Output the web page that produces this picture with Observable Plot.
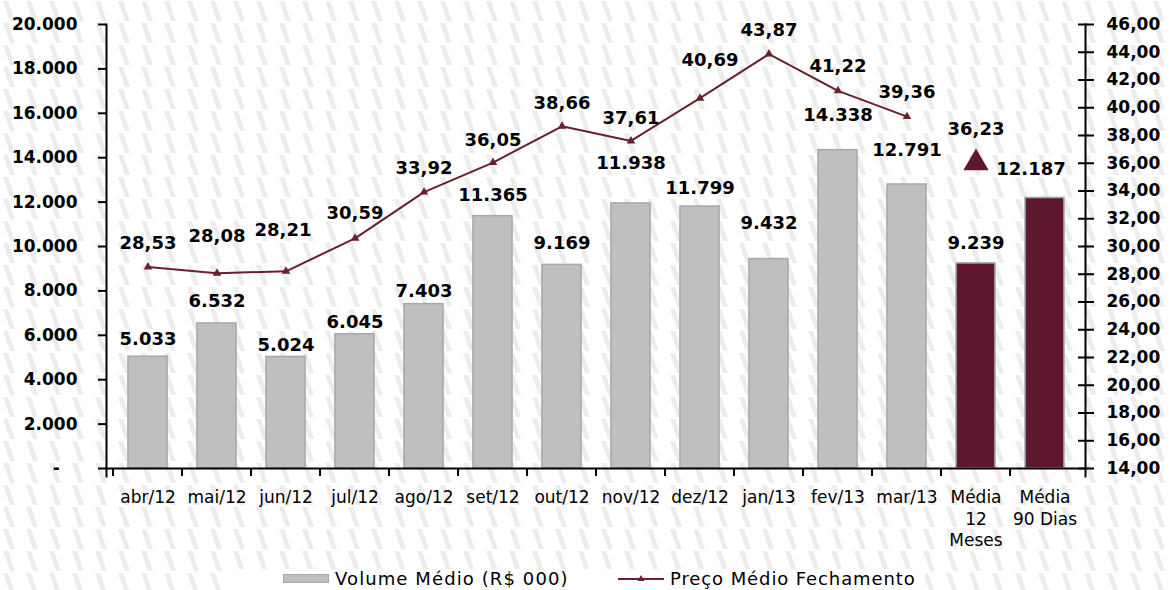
<!DOCTYPE html>
<html>
<head>
<meta charset="utf-8">
<script src="https://cdn.jsdelivr.net/npm/d3@7"></script>
<script src="https://cdn.jsdelivr.net/npm/@observablehq/plot@0.6"></script>
<style>
html, body { margin: 0; padding: 0; }
body {
  width: 1170px; height: 590px; overflow: hidden; position: relative;
  background: #fff url("data:image/svg+xml,%3Csvg xmlns='http://www.w3.org/2000/svg' width='23' height='22'%3E%3Cpolygon points='3,1 8,1 15,21 10,21' fill='%23ececec'/%3E%3C/svg%3E") repeat;
  font-family: "DejaVu Sans", Verdana, sans-serif;
}
#chart { position: absolute; left: 0; top: 0; }
#legend { position: absolute; left: 233px; top: 569px; width: 692px; height: 21px; background: #fff; font-size: 18px; color: #000; }
#legend .sw { position: absolute; left: 50px; top: 5px; width: 46px; height: 9px; background: #bfbfbf; border: 1px solid #a2aab2; box-sizing: border-box; }
#legend .t1 { position: absolute; left: 102px; top: -1px; white-space: nowrap; letter-spacing: 1.1px; }
#legend svg { position: absolute; left: 385px; top: 0px; }
#legend .t2 { position: absolute; left: 437px; top: -1px; white-space: nowrap; letter-spacing: 0.9px; }
</style>
</head>
<body>
<div id="chart"></div>
<div id="legend">
  <span class="sw"></span><span class="t1">Volume Médio (R$ 000)</span>
  <svg width="46" height="20"><line x1="0" y1="10" x2="46" y2="10" stroke="#6b1f2d" stroke-width="2"/><path d="M23,6 L26.5,12 L19.5,12 Z" fill="#6b1f2d"/></svg>
  <span class="t2">Preço Médio Fechamento</span>
</div>
<script>
// ---- data ----
const categories = ["abr/12", "mai/12", "jun/12", "jul/12", "ago/12", "set/12", "out/12", "nov/12", "dez/12", "jan/13", "fev/13", "mar/13", "Média 12 Meses", "Média 90 Dias"];
const tickLabels = ["abr/12", "mai/12", "jun/12", "jul/12", "ago/12", "set/12", "out/12", "nov/12", "dez/12", "jan/13", "fev/13", "mar/13", "Média\n12\nMeses", "Média\n90 Dias"];
const volumes = [5033, 6532, 5024, 6045, 7403, 11365, 9169, 11938, 11799, 9432, 14338, 12791, 9239, 12187];
const months = categories.slice(0, 12);
const prices = [28.53, 28.08, 28.21, 30.59, 33.92, 36.05, 38.66, 37.61, 40.69, 43.87, 41.22, 39.36];
const avgPriceCategory = "Média 12 Meses";
const avgPrice = 36.23;
const volumeTicks = [0, 2000, 4000, 6000, 8000, 10000, 12000, 14000, 16000, 18000, 20000];
const priceTicks = [14, 16, 18, 20, 22, 24, 26, 28, 30, 32, 34, 36, 38, 40, 42, 44, 46];
const averageCategories = ["Média 12 Meses", "Média 90 Dias"];

// ---- label placement nudges (px), as in the original layout ----
const barLabelLift = [18, 22, 12, 12, 13, 21, 22, 40, 18, 36, 35, 34, 20, 29];
const barLabelShift = [0, 0, 0, 0, 0, 0, 0, 0, 0, 0, 0, 0, 0, -14];
const priceLabelLift = [24, 37, 41, 25, 24, 22, 23, 23, 38, 24, 25, 24];
const priceLabelShift = [0, 0, -3, 0, 0, 0, 0, 0, 10, 0, 0, 0];
const avgPriceLabelLift = 31;

// ---- helpers ----
const volDomain = [0, 20000];
const priceDomain = [14, 46];
const toVol = p => (p - priceDomain[0]) / (priceDomain[1] - priceDomain[0]) * (volDomain[1] - volDomain[0]);
const loc = d3.formatLocale({decimal: ",", thousands: ".", grouping: [3], currency: ["R$", ""]});
const fmtVol = loc.format(",d");
const fmtPrice = loc.format(",.2f");

const barRows = categories.map((c, i) => ({cat: c, vol: volumes[i], avg: averageCategories.includes(c), lift: barLabelLift[i], shift: barLabelShift[i]}));
const priceRows = months.map((c, i) => ({cat: c, price: prices[i], lift: priceLabelLift[i], shift: priceLabelShift[i]}));
const avgRows = [{cat: avgPriceCategory, price: avgPrice, lift: avgPriceLabelLift, shift: 0}];

const W = 1170, H = 562, ML = 106, MR = 85, MT = 24, MB = 94;
const bw = (W - ML - MR) / categories.length;

const grey = "#bfbfbf", maroon = "#5f172d", lineColor = "#6b1f2d", barStroke = "#a2aab2";
const bold = {fontWeight: "bold", fontSize: 18, fill: "#000"};

// text mark with per-datum nudge, via a render-time transform of each label
function nudgedText(data, options) {
  return Plot.text(data, {
    ...options,
    render(index, scales, values, dimensions, context, next) {
      const g = next(index, scales, values, dimensions, context);
      d3.select(g).selectAll("text").each(function(_, j) {
        const d = data[index[j]];
        const el = d3.select(this);
        const t = el.attr("transform") || "";
        el.attr("transform", `${t} translate(${d.shift},${-d.lift})`);
      });
      return g;
    }
  });
}

const chart = Plot.plot({
  width: W, height: H,
  marginLeft: ML, marginRight: MR, marginTop: MT, marginBottom: MB,
  style: {background: "transparent", overflow: "visible", fontFamily: "'DejaVu Sans', Verdana, sans-serif", color: "#000"},
  x: {type: "band", domain: categories, padding: 0, axis: null, label: null},
  y: {domain: volDomain, axis: null, label: null},
  marks: [
    Plot.barY(barRows.filter(d => !d.avg), {x: "cat", y: "vol", fill: grey, stroke: barStroke, strokeWidth: 1.6, insetLeft: 15, insetRight: 15}),
    Plot.barY(barRows.filter(d => d.avg), {x: "cat", y: "vol", fill: maroon, stroke: barStroke, strokeWidth: 1.6, insetLeft: 15, insetRight: 15}),
    // axes lines
    Plot.frame({anchor: "left", strokeWidth: 2, insetBottom: -8, stroke: "#000"}),
    Plot.frame({anchor: "right", strokeWidth: 2, insetBottom: -8, stroke: "#000"}),
    Plot.frame({anchor: "bottom", strokeWidth: 2, stroke: "#000"}),
    // left axis
    Plot.axisY(volumeTicks, {anchor: "left", tickSize: 8, tickPadding: 21, strokeWidth: 2, label: null,
      tickFormat: d => d === 0 ? "-\u00a0\u00a0\u00a0" : fmtVol(d), fontSize: 17, fontWeight: "bold", color: "#000"}),
    // right axis ticks (crossing)
    Plot.axisY(priceTicks.map(toVol), {anchor: "right", tickSize: 16, dx: -8, strokeWidth: 2, label: null, tickFormat: () => "", color: "#000"}),
    Plot.text(priceTicks, {y: d => toVol(d), text: d => fmtPrice(d), frameAnchor: "right", dx: 21, textAnchor: "start", fontSize: 17, fontWeight: "bold", fill: "#000"}),
    // x ticks at band edges
    Plot.axisX(categories, {anchor: "bottom", tickSize: 8, dx: -bw / 2, strokeWidth: 2, label: null, tickFormat: () => "", color: "#000"}),
    Plot.text(categories, {x: d => d, text: (d, i) => tickLabels[i], frameAnchor: "bottom", lineAnchor: "top", dy: 19, fontSize: 17, lineHeight: 1.28, fill: "#000"}),
    // price line
    Plot.line(priceRows, {x: "cat", y: d => toVol(d.price), stroke: lineColor, strokeWidth: 2}),
    Plot.dot(priceRows, {x: "cat", y: d => toVol(d.price), symbol: "triangle", r: 3.2, fill: lineColor, stroke: null}),
    Plot.dot(avgRows, {x: "cat", y: d => toVol(d.price), symbol: "triangle", r: 9.4, dy: 3, fill: maroon, stroke: null}),
    // labels
    nudgedText(barRows, {x: "cat", y: "vol", text: d => fmtVol(d.vol), ...bold}),
    nudgedText(priceRows, {x: "cat", y: d => toVol(d.price), text: d => fmtPrice(d.price), ...bold}),
    nudgedText(avgRows, {x: "cat", y: d => toVol(d.price), text: d => fmtPrice(d.price), ...bold})
  ]
});
document.getElementById("chart").appendChild(chart);
</script>
</body>
</html>
